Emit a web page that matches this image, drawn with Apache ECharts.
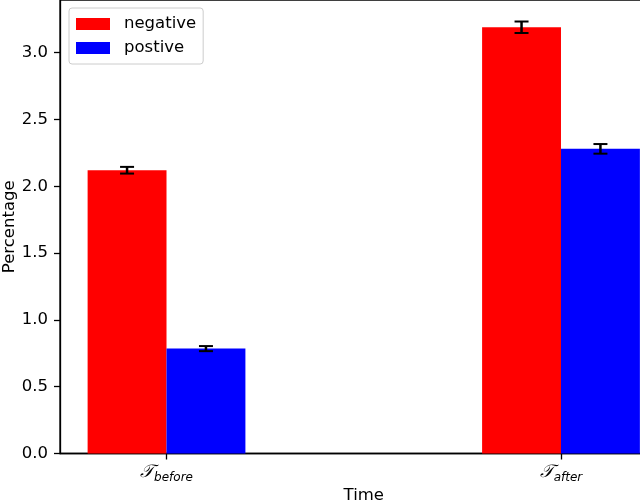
<!DOCTYPE html>
<html>
<head>
<meta charset="utf-8">
<script src="https://cdn.jsdelivr.net/npm/echarts@6/dist/echarts.min.js"></script>
<style>html,body{margin:0;padding:0;background:#fff}#c{width:640px;height:501px}</style>
</head>
<body>
<div id="c"></div>
<script>
var categories = ['before', 'after'];
var catPositions = [0, 1];
var seriesNames = ['negative', 'postive'];
var negativeValues = [2.12, 3.19];
var negativeErrors = [0.025, 0.043];
var positiveValues = [0.785, 2.28];
var positiveErrors = [0.019, 0.036];
var yTicks = [0, 0.5, 1.0, 1.5, 2.0, 2.5, 3.0];

var BAR_W = 0.2;
var FONT = 'DejaVu Sans';

function barSeries(name, values, offset, color) {
  return {
    name: name,
    type: 'custom',
    itemStyle: { color: color },
    data: values.map(function (v, i) { return [catPositions[i] + offset, v]; }),
    encode: { x: 0, y: 1 },
    renderItem: function (params, api) {
      var x = api.value(0), y = api.value(1);
      var p0 = api.coord([x - BAR_W / 2, y]);
      var p1 = api.coord([x + BAR_W / 2, 0]);
      return {
        type: 'rect',
        shape: { x: p0[0], y: p0[1], width: p1[0] - p0[0], height: p1[1] - p0[1] },
        style: { fill: color }
      };
    },
    z: 2
  };
}

function errSeries(values, errors, offset) {
  return {
    type: 'custom',
    silent: true,
    data: values.map(function (v, i) { return [catPositions[i] + offset, v, errors[i]]; }),
    encode: { x: 0, y: 1 },
    renderItem: function (params, api) {
      var x = api.value(0), y = api.value(1), e = api.value(2);
      var top = api.coord([x, y + e]);
      var bot = api.coord([x, y - e]);
      var cap = 7;
      var st = { stroke: '#000', lineWidth: 2 };
      return {
        type: 'group',
        children: [
          { type: 'line', shape: { x1: top[0], y1: top[1], x2: bot[0], y2: bot[1] }, style: { stroke: '#000', lineWidth: 2.5 } },
          { type: 'line', shape: { x1: top[0] - cap, y1: top[1], x2: top[0] + cap, y2: top[1] }, style: st },
          { type: 'line', shape: { x1: bot[0] - cap, y1: bot[1], x2: bot[0] + cap, y2: bot[1] }, style: st }
        ]
      };
    },
    z: 5
  };
}

var chart = echarts.init(document.getElementById('c'), null, { renderer: 'canvas' });
chart.setOption({
  animation: false,
  backgroundColor: '#fff',
  grid: {
    left: 60, top: 0, width: 607.5, height: 453.5,
    containLabel: false, outerBoundsMode: 'none',
    show: true, borderColor: '#000', borderWidth: 1.3, backgroundColor: 'transparent'
  },
  legend: {
    data: seriesNames.map(function (n) { return { name: n, icon: 'rect' }; }),
    orient: 'vertical',
    left: 69, top: 8,
    padding: [7, 7, 7, 7],
    itemWidth: 34, itemHeight: 12, itemGap: 6,
    borderColor: '#cccccc', borderWidth: 1, borderRadius: 3,
    backgroundColor: 'rgba(255,255,255,0.8)',
    textStyle: { fontFamily: FONT, fontSize: 16.5, color: '#000', padding: [0, 0, 0, 9], lineHeight: 18 },
    selectedMode: false
  },
  xAxis: {
    type: 'value',
    min: -0.27, max: 1.27,
    name: 'Time', nameLocation: 'middle', nameGap: 34, nameMoveOverlap: false,
    nameTextStyle: { fontFamily: FONT, fontSize: 16.5, color: '#000' },
    splitLine: { show: false },
    axisLine: { show: true, onZero: false, lineStyle: { color: '#000', width: 1.3 } },
    axisTick: { show: true, customValues: catPositions, length: 6, lineStyle: { color: '#000', width: 1.3 } },
    axisLabel: {
      customValues: catPositions,
      margin: 10,
      formatter: function (v) {
        var i = catPositions.indexOf(Math.round(v * 1000) / 1000);
        if (i < 0) return '';
        return '{t|\uD835\uDCAF}{s|' + categories[i] + '}';
      },
      rich: {
        t: { fontFamily: 'DejaVu Sans', fontStyle: 'italic', fontSize: 18, color: '#000', padding: [0, 0, 2, 0] },
        s: { fontFamily: FONT, fontStyle: 'italic', fontSize: 12, color: '#000', verticalAlign: 'bottom' }
      }
    }
  },
  yAxis: {
    type: 'value',
    min: 0, max: 3.394,
    name: 'Percentage', nameLocation: 'middle', nameGap: 42, nameMoveOverlap: false,
    nameTextStyle: { fontFamily: FONT, fontSize: 16.5, color: '#000' },
    splitLine: { show: false },
    axisLine: { show: true, onZero: false, lineStyle: { color: '#000', width: 1.3 } },
    axisTick: { show: true, customValues: yTicks, length: 6, lineStyle: { color: '#000', width: 1.3 } },
    axisLabel: {
      customValues: yTicks,
      margin: 12,
      fontFamily: FONT, fontSize: 16.5, color: '#000',
      formatter: function (v) { return v.toFixed(1); }
    }
  },
  series: [
    barSeries(seriesNames[0], negativeValues, -0.1, '#ff0000'),
    barSeries(seriesNames[1], positiveValues, 0.1, '#0000ff'),
    errSeries(negativeValues, negativeErrors, -0.1),
    errSeries(positiveValues, positiveErrors, 0.1)
  ]
});
</script>
</body>
</html>
